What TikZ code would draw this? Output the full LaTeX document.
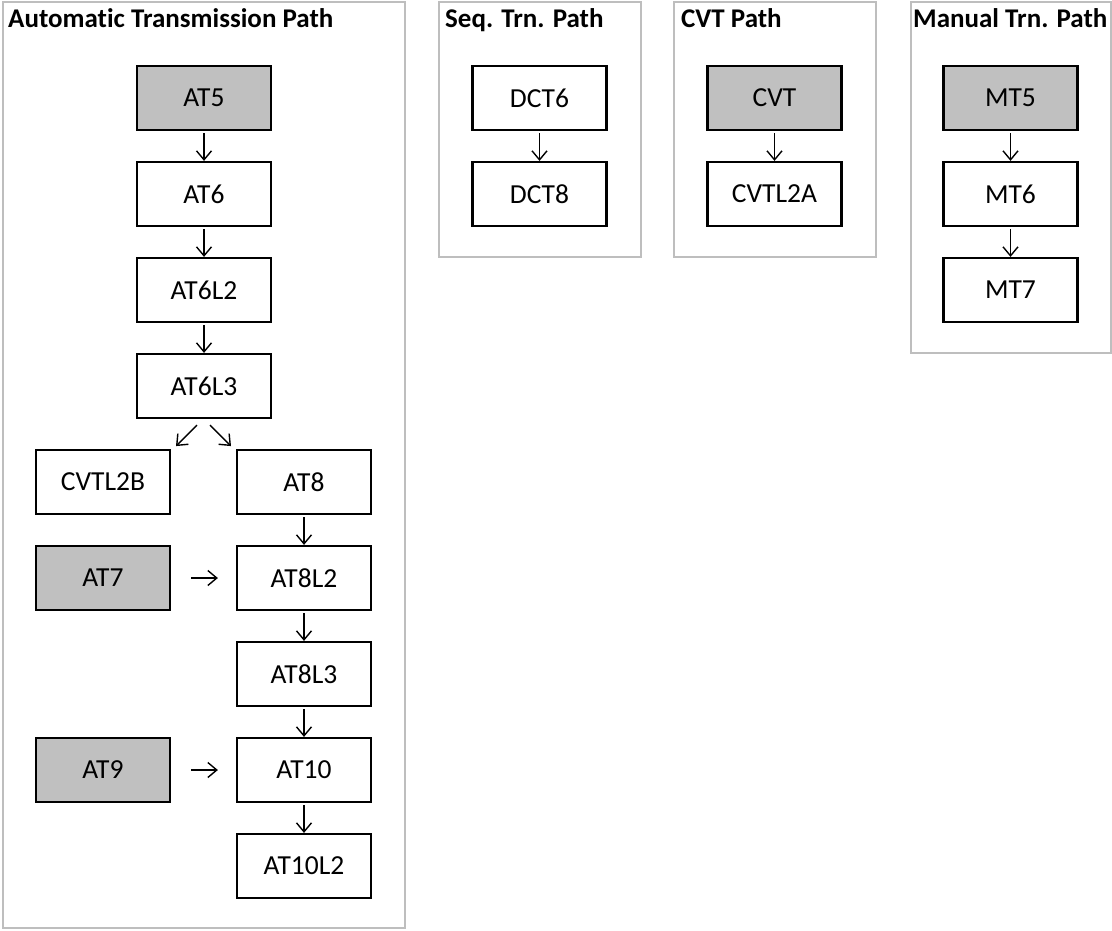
\documentclass[tikz,border=0pt]{standalone}
\usepackage{fontspec}
\setmainfont{Carlito}[Ligatures=NoCommon]
\usetikzlibrary{arrows.meta,calc}
\definecolor{boxgray}{RGB}{192,192,192}
\definecolor{panelgray}{RGB}{190,190,190}
\begin{document}
\begin{tikzpicture}[x=1pt,y=-1pt,
  box/.style={draw=black,line width=2.2pt,minimum width=134pt,minimum height=64pt,inner sep=0pt,font=\fontsize{27.5}{32}\selectfont},
  shaded/.style={box,fill=boxgray},
  panel/.style={draw=panelgray,line width=2.5pt},
  ptitle/.style={anchor=base west,inner sep=0pt,font=\fontsize{27}{32}\selectfont\bfseries},
  arr/.style={line width=1.4pt,-{Straight Barb[length=9pt,width=15pt,line width=1.4pt]}}]
\useasboundingbox (0,0) rectangle (1112,931);
% panels
\draw[panel] (3,2) rectangle (405,928);
\draw[panel] (439,2) rectangle (641,257);
\draw[panel] (674,2) rectangle (876,257);
\draw[panel] (911,2) rectangle (1111,353);
\node[ptitle] (t1) at (8,28) {Automatic Transmission Path};
\node[ptitle] (t2) at (445,28) {Seq. Trn. Path};
\node[ptitle] (t3) at (681,28) {CVT Path};
\node[ptitle] (t4) at (913,28) {Manual Trn. Path};
% automatic column
\node[shaded] (AT5) at (204,98) {AT5};
\node[box] (AT6) at (204,194) {AT6};
\node[box] (AT6L2) at (204,290) {AT6L2};
\node[box] (AT6L3) at (204,386) {AT6L3};
\node[box] (CVTL2B) at (103,482) {CVTL2B};
\node[box] (AT8) at (304,482) {AT8};
\node[shaded] (AT7) at (103,578) {AT7};
\node[box] (AT8L2) at (304,578) {AT8L2};
\node[box] (AT8L3) at (304,674) {AT8L3};
\node[shaded] (AT9) at (103,770) {AT9};
\node[box] (AT10) at (304,770) {AT10};
\node[box] (AT10L2) at (304,866) {AT10L2};
\draw[arr,shorten <=2pt] (AT5) -- (AT6);
\draw[arr,shorten <=2pt] (AT6) -- (AT6L2);
\draw[arr,shorten <=2pt] (AT6L2) -- (AT6L3);
\draw[arr] ($(AT6L3.south)+(-7,6)$) -- ($(AT6L3.south)+(-28,27)$);
\draw[arr] ($(AT6L3.south)+(6,6)$) -- ($(AT6L3.south)+(27,27)$);
\draw[arr,shorten <=2pt] (AT8) -- (AT8L2);
\draw[arr,shorten <=2pt] (AT8L2) -- (AT8L3);
\draw[arr,shorten <=2pt] (AT8L3) -- (AT10);
\draw[arr,shorten <=2pt] (AT10) -- (AT10L2);
\draw[arr,shorten <=20pt,shorten >=18pt] (AT7) -- (AT8L2);
\draw[arr,shorten <=20pt,shorten >=18pt] (AT9) -- (AT10);
% seq
\node[box] (DCT6) at (539.5,98) {DCT6};
\node[box] (DCT8) at (539.5,194) {DCT8};
\draw[arr,shorten <=2pt] (DCT6) -- (DCT8);
% cvt
\node[shaded] (CVT) at (774.5,98) {CVT};
\node[box] (CVTL2A) at (774.5,194) {CVTL2A};
\draw[arr,shorten <=2pt] (CVT) -- (CVTL2A);
% manual
\node[shaded] (MT5) at (1010.5,98) {MT5};
\node[box] (MT6) at (1010.5,194) {MT6};
\node[box] (MT7) at (1010.5,290) {MT7};
\draw[arr,shorten <=2pt] (MT5) -- (MT6);
\draw[arr,shorten <=2pt] (MT6) -- (MT7);
\end{tikzpicture}
\end{document}
